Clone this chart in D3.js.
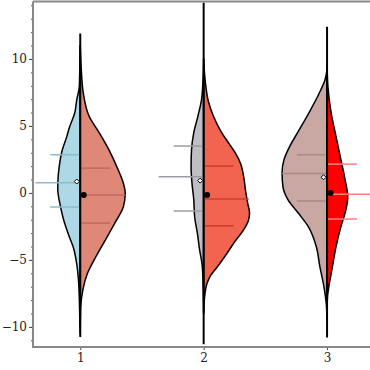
<!DOCTYPE html>
<html>
<head>
<meta charset="utf-8">
<script src="https://cdn.jsdelivr.net/npm/d3@7"></script>
<style>
  body { margin: 0; background: #fff; }
  svg { display: block; }
</style>
</head>
<body>
<div id="chart"></div>
<script>
/* Categories on the x axis */
const categories = [1, 2, 3];

/* Density profiles, [value, density], top to bottom */
const leftDensity1 = [[11.0, 0], [9.5, 0.001], [8, 0.002], [6.9, 0.008], [6, 0.012], [4.9, 0.024], [4.2, 0.030], [3.2, 0.040], [1.9, 0.047], [1.0, 0.0495], [0.3, 0.050], [-1, 0.044], [-2, 0.037], [-3.3, 0.024], [-4, 0.016], [-5.5, 0.007], [-6.5, 0.004], [-8, 0.002], [-9.5, 0.001], [-10.5, 0]];
const rightDensity1 = [[11, 0], [9.4, 0.002], [7.4, 0.007], [5.7, 0.020], [4.5, 0.042], [3.2, 0.064], [1.9, 0.082], [0.7, 0.096], [0, 0.100], [-1, 0.096], [-2.3, 0.076], [-3.5, 0.056], [-4.8, 0.034], [-6, 0.016], [-7.2, 0.006], [-8.5, 0.001], [-10, 0]];
const leftDensity2 = [[10, 0], [8.7, 0.001], [6.9, 0.005], [5.7, 0.013], [4.5, 0.022], [3.2, 0.027], [1.95, 0.028], [0.75, 0.026], [-0.5, 0.022], [-1.8, 0.020], [-3, 0.014], [-4.25, 0.009], [-5.5, 0.003], [-7.2, 0.001], [-9, 0]];
const rightDensity2 = [[10, 0], [8.2, 0.004], [6.9, 0.010], [5.7, 0.022], [4.5, 0.040], [3.7, 0.056], [3.0, 0.070], [2.2, 0.082], [1.2, 0.089], [0.2, 0.093], [-0.8, 0.098], [-1.5, 0.102], [-2.0, 0.100], [-2.8, 0.088], [-3.6, 0.070], [-4.5, 0.052], [-5.4, 0.033], [-6.2, 0.015], [-6.7, 0.008], [-7.8, 0.002], [-9, 0]];
const leftDensity3 = [[9.2, 0], [8.5, 0.004], [7.4, 0.018], [6, 0.040], [4.7, 0.062], [3.4, 0.084], [2.45, 0.096], [1.5, 0.100], [0.45, 0.098], [-0.5, 0.087], [-1.5, 0.064], [-2.5, 0.042], [-4, 0.024], [-5.5, 0.016], [-7, 0.007], [-8.2, 0.002], [-9.5, 0]];
const rightDensity3 = [[9.5, 0], [7.9, 0.002], [6, 0.009], [4.2, 0.020], [2.45, 0.031], [1, 0.040], [-0.3, 0.046], [-1.25, 0.042], [-2.5, 0.031], [-4, 0.020], [-5.5, 0.012], [-7, 0.004], [-7.75, 0.001], [-9, 0]];

/* Quartiles (q1, median, q3) and means for each half */
const leftQuartiles = [[-1.05, 0.75, 2.85], [-1.35, 1.2, 3.5], [-0.6, 1.45, 2.85]];
const rightQuartiles = [[-2.25, -0.15, 1.85], [-2.45, -0.45, 2.0], [-1.95, -0.1, 2.15]];
const leftMeans = [0.85, 0.92, 1.17];
const rightMeans = [-0.15, -0.15, 0.0];

/* Full data range drawn as the centre line */
const dataRanges = [[-10.75, 11.9], [-11.3, 14.2], [-10.8, 12.4]];

const yMajorTicks = [-10, -5, 0, 5, 10];
const yMinorTicks = d3.range(-11, 15);

const leftFills = ["#add8e6", "#bebec4", "#c9a7a3"];
const leftLines = ["#8cbccc", "#9c9ca4", "#a88a88"];
const rightFills = ["#e08878", "#f26450", "#ff0000"];
const rightLines = ["#c06a5c", "#c8402c", "#ff8080"];

const width = 370;
const height = 370;
const frame = { left: 33, top: 1.5, bottom: 347, right: 370 };

const svg = d3
  .select("#chart")
  .append("svg")
  .attr("width", width)
  .attr("height", height);

const xScale = d3.scaleLinear().domain([0.617, 3.348]).range([frame.left, frame.right]);
const yScale = d3.scaleLinear().domain([-11.5, 14.25]).range([frame.bottom, frame.top + 0.5]);
const wScale = d3.scaleLinear().domain([0, 0.1]).range([0, 45]);

// frame lines (no right side, it is cut off)
const axisColor = "#888";
svg.append("line")
  .attr("x1", frame.left).attr("x2", frame.right)
  .attr("y1", frame.top).attr("y2", frame.top)
  .attr("stroke", axisColor).attr("stroke-width", 2);

svg
  .append("g")
  .attr("transform", `translate(${frame.left},0)`)
  .call(d3.axisLeft(yScale).tickValues(yMinorTicks).tickSize(2).tickFormat(""))
  .call((g) => g.select(".domain").remove())
  .call((g) => g.selectAll(".tick line").attr("stroke", "#555"));

svg
  .append("g")
  .attr("transform", `translate(${frame.left},0)`)
  .call(
    d3.axisLeft(yScale)
      .tickValues(yMajorTicks)
      .tickSize(4)
      .tickPadding(2)
      .tickFormat((d) => (d < 0 ? "\u2212" + Math.abs(d) : d))
  )
  .call((g) => g.select(".domain").remove())
  .call((g) => g.selectAll(".tick line").attr("stroke", "#444"))
  .call((g) =>
    g.selectAll(".tick text")
      .attr("fill", "#222")
      .style("font-family", "DejaVu Serif")
      .style("font-size", "12px")
  );

svg
  .append("g")
  .attr("transform", `translate(0,${frame.bottom})`)
  .call(
    d3.axisBottom(xScale)
      .tickValues(categories)
      .tickSize(3)
      .tickPadding(3)
      .tickFormat(d3.format("d"))
  )
  .call((g) => g.select(".domain").remove())
  .call((g) => g.selectAll(".tick line").attr("stroke", "#444"))
  .call((g) =>
    g.selectAll(".tick text")
      .attr("fill", "#222")
      .style("font-family", "DejaVu Serif")
      .style("font-size", "12px")
  );

svg.append("line")
  .attr("x1", frame.left).attr("x2", frame.left)
  .attr("y1", frame.top).attr("y2", frame.bottom)
  .attr("stroke", axisColor).attr("stroke-width", 2);
svg.append("line")
  .attr("x1", frame.left - 1).attr("x2", frame.right)
  .attr("y1", frame.bottom).attr("y2", frame.bottom)
  .attr("stroke", axisColor).attr("stroke-width", 2);

const leftDensities = [leftDensity1, leftDensity2, leftDensity3];
const rightDensities = [rightDensity1, rightDensity2, rightDensity3];

const gViolins = svg.append("g");

categories.forEach((cat, i) => {
  const cx = xScale(cat);
  const g = gViolins.append("g").attr("class", "violin");

  const leftArea = d3.area()
    .curve(d3.curveMonotoneY)
    .y((d) => yScale(d[0]))
    .x0(cx)
    .x1((d) => cx - wScale(d[1]));
  const rightArea = d3.area()
    .curve(d3.curveMonotoneY)
    .y((d) => yScale(d[0]))
    .x0(cx)
    .x1((d) => cx + wScale(d[1]));

  g.append("path")
    .datum(leftDensities[i])
    .attr("d", leftArea)
    .attr("fill", leftFills[i])
    .attr("stroke", "#000")
    .attr("stroke-width", 1.5)
    .attr("stroke-linejoin", "round");
  g.append("path")
    .datum(rightDensities[i])
    .attr("d", rightArea)
    .attr("fill", rightFills[i])
    .attr("stroke", "#000")
    .attr("stroke-width", 1.5)
    .attr("stroke-linejoin", "round");

  /* quartile lines: median is longer */
  leftQuartiles[i].forEach((q, k) => {
    const len = k === 1 ? 45 : 30;
    g.append("line")
      .attr("x1", cx - len).attr("x2", cx)
      .attr("y1", yScale(q)).attr("y2", yScale(q))
      .attr("stroke", leftLines[i]).attr("stroke-width", 1.5);
  });
  rightQuartiles[i].forEach((q, k) => {
    const len = k === 1 ? 45 : 30;
    g.append("line")
      .attr("x1", cx).attr("x2", cx + len)
      .attr("y1", yScale(q)).attr("y2", yScale(q))
      .attr("stroke", rightLines[i]).attr("stroke-width", 1.5);
  });

  // centre line over the full range
  g.append("line")
    .attr("x1", cx).attr("x2", cx)
    .attr("y1", yScale(dataRanges[i][0])).attr("y2", yScale(dataRanges[i][1]))
    .attr("stroke", "#000").attr("stroke-width", 2);

  // mean markers
  const my = yScale(leftMeans[i]);
  g.append("path")
    .attr("d", `M${cx - 3.5},${my - 2.5}L${cx - 1},${my}L${cx - 3.5},${my + 2.5}L${cx - 6},${my}Z`)
    .attr("fill", "#fff")
    .attr("stroke", "#000")
    .attr("stroke-width", 1);
  g.append("circle")
    .attr("cx", cx + 3.5)
    .attr("cy", yScale(rightMeans[i]))
    .attr("r", 3)
    .attr("fill", "#000");
});
</script>
</body>
</html>
